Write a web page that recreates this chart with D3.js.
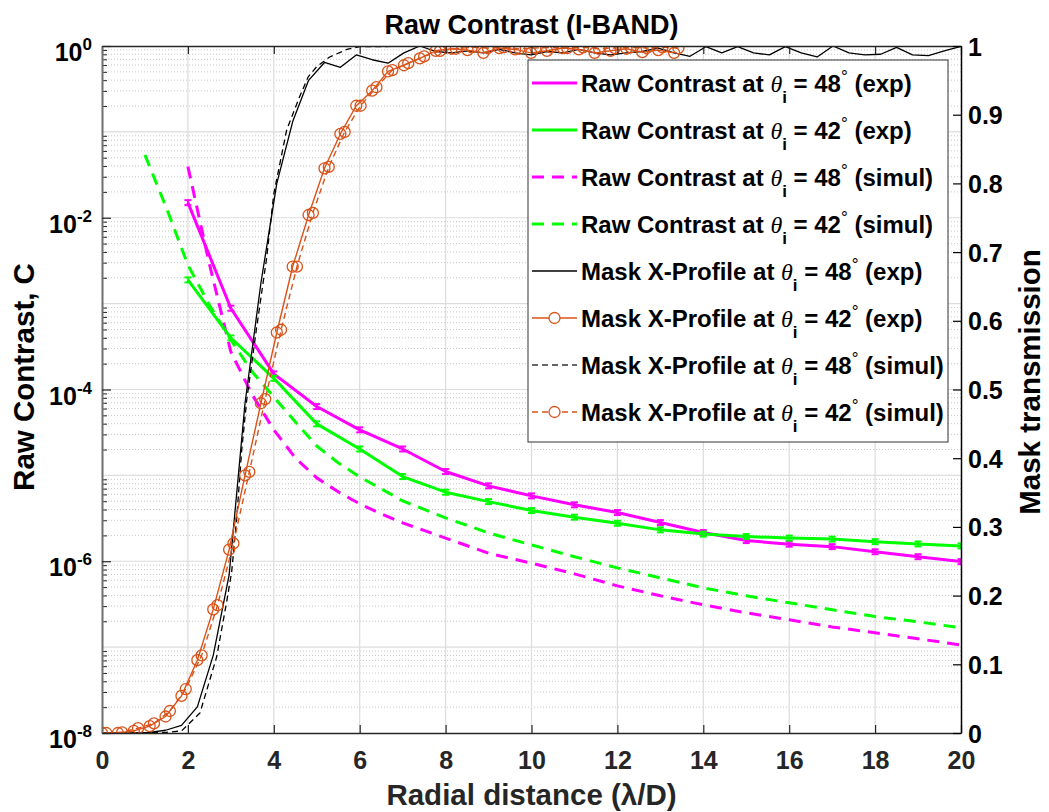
<!DOCTYPE html>
<html><head><meta charset="utf-8">
<script src="https://cdn.jsdelivr.net/npm/d3@7"></script>
<style>
body{margin:0;background:#fff;}
svg{display:block;}
text{font-family:"Liberation Sans",Arial,Helvetica,sans-serif;font-weight:bold;}
</style>
</head><body>
<svg id="chart" width="1049" height="812"></svg>
<script>
// ---------------- DATA ----------------
const xTickValues = [0,2,4,6,8,10,12,14,16,18,20];
const leftTickExponents = [0,-2,-4,-6,-8];
const rightTickValues = [0,0.1,0.2,0.3,0.4,0.5,0.6,0.7,0.8,0.9,1];

// Raw contrast, experimental (errorbar points at integer lambda/D)
const rcExpX = [2,3,4,5,6,7,8,9,10,11,12,13,14,15,16,17,18,19,20];
const rc48exp = [1.50e-2,8.84e-4,1.52e-4,6.33e-5,3.39e-5,2.03e-5,1.11e-5,7.55e-6,5.77e-6,4.54e-6,3.69e-6,2.82e-6,2.16e-6,1.74e-6,1.58e-6,1.48e-6,1.29e-6,1.13e-6,9.9e-7];
const rc42exp = [1.89e-3,3.99e-4,1.35e-4,3.98e-5,2.03e-5,9.68e-6,6.37e-6,4.95e-6,3.89e-6,3.26e-6,2.77e-6,2.32e-6,2.07e-6,1.94e-6,1.86e-6,1.81e-6,1.69e-6,1.59e-6,1.51e-6];

// Raw contrast, simulation
const rc48simX = [2,2.5,3,3.5,4,4.5,5,5.5,6,6.5,7,8,9,10,11,12,13,14,15,16,17,18,19,20];
const rc48sim = [3.94e-2,2.90e-3,2.74e-4,8.65e-5,3.39e-5,1.60e-5,9.35e-6,6.43e-6,4.66e-6,3.56e-6,2.80e-6,1.86e-6,1.24e-6,9.5e-7,7.13e-7,5.17e-7,3.96e-7,3.11e-7,2.51e-7,2.08e-7,1.72e-7,1.47e-7,1.25e-7,1.06e-7];
const rc42simX = [1,1.5,2,2.5,3,3.5,4,4.5,5,5.5,6,6.5,7,8,9,10,11,12,13,14,15,16,17,18,19,20];
const rc42sim = [5.39e-2,1.30e-2,2.82e-3,9.66e-4,3.78e-4,1.60e-4,8.20e-5,4.20e-5,2.20e-5,1.40e-5,9.6e-6,6.97e-6,5.05e-6,3.20e-6,2.14e-6,1.55e-6,1.13e-6,8.38e-7,6.41e-7,4.90e-7,3.96e-7,3.28e-7,2.72e-7,2.27e-7,1.97e-7,1.68e-7];

// Mask X-profile (transmission), 48 deg experimental
const mask48expX = [0,0.37,0.74,1.11,1.48,1.85,2.22,2.59,2.96,3.33,3.70,4.07,4.44,4.81,5.18,5.55,5.92,6.29,6.66,7.03,7.40,7.77,8.14,8.51,8.88,9.25,9.62,9.99,10.36,10.73,11.10,11.47,11.84,12.21,12.58,12.95,13.32,13.69,14.06,14.43,14.80,15.17,15.54,15.91,16.28,16.65,17.02,17.39,17.76,18.13,18.50,18.87,19.24,19.61,19.98];
const mask48exp = [0,0,0,0.001,0.004,0.011,0.038,0.113,0.23,0.48,0.655,0.80,0.89,0.95,0.976,0.969,0.987,0.98,0.975,0.99,1.0,0.992,0.99,0.993,0.99,0.995,0.99,0.987,0.992,0.99,0.995,0.99,0.987,0.99,0.992,0.997,0.99,0.985,0.999,0.99,0.999,0.99,0.987,0.999,0.99,0.984,1.0,0.99,0.987,0.988,0.998,0.987,0.986,0.993,0.999];

// Mask X-profile, 42 deg experimental
const mask42expX = [0,0.37,0.74,1.11,1.48,1.85,2.22,2.59,2.96,3.33,3.70,4.07,4.44,4.81,5.18,5.55,5.92,6.29,6.66,7.03,7.40,7.77,8.14,8.51,8.88,9.25,9.62,9.99,10.36,10.73,11.10,11.47,11.84,12.21,12.58,12.95,13.32];
const mask42exp = [0,0,0.003,0.010,0.024,0.054,0.106,0.180,0.267,0.375,0.480,0.583,0.679,0.754,0.822,0.872,0.913,0.935,0.963,0.972,0.982,0.993,0.996,0.994,0.990,0.997,0.995,0.990,0.993,0.997,0.995,0.990,0.993,0.996,0.991,0.994,0.990];

// Mask X-profile, 48 deg simulation
const mask48simX = [0,0.5,1.0,1.5,1.85,2.28,2.67,2.9,3.02,3.14,3.25,3.37,3.6,3.83,4.0,4.3,4.6,4.8,5.0,5.3,5.7,6.0,8,12,16,20];
const mask48sim = [0,0,0,0.001,0.003,0.029,0.111,0.19,0.235,0.315,0.41,0.485,0.59,0.69,0.785,0.878,0.926,0.955,0.97,0.984,0.995,0.999,1,1,1,1];

// Mask X-profile, 42 deg simulation
const mask42simX = [0.10,0.47,0.84,1.21,1.58,1.95,2.32,2.69,3.06,3.43,3.80,4.17,4.54,4.91,5.28,5.65,6.02,6.39,6.76,7.13,7.50,7.87,8.24,8.61,8.98,9.35,9.72,10.09,10.46,10.83,11.20,11.57,11.94,12.31,12.68,13.05,13.42];
const mask42sim = [0,0.001,0.007,0.014,0.032,0.064,0.113,0.186,0.276,0.38,0.486,0.587,0.679,0.757,0.824,0.875,0.913,0.94,0.965,0.975,0.985,0.993,0.996,0.998,0.997,0.998,0.996,0.997,0.998,0.997,0.998,0.996,0.997,0.998,0.997,0.998,0.997];

// ---------------- LAYOUT ----------------
const M = {l:102, r:961, t:46, b:733};
const svg = d3.select("#chart");
const x = d3.scaleLinear().domain([0,20]).range([M.l, M.r]);
const yL = d3.scaleLog().domain([1e-8,1]).range([M.b, M.t]);
const yR = d3.scaleLinear().domain([0,1]).range([M.b, M.t]);

const MAG = "#ff00ff", GRN = "#00ff00", ORG = "#d95319", BLK = "#000000";
const TICKFONT = 25;

svg.append("rect").attr("width",1049).attr("height",812).attr("fill","#fff");
svg.append("defs").append("clipPath").attr("id","clip")
  .append("rect").attr("x",M.l).attr("y",M.t).attr("width",M.r-M.l).attr("height",M.b-M.t);

// ---------- grid ----------
const grid = svg.append("g");
const minorVals = [];
for (let e=-8; e<0; e++) for (let m=2; m<=9; m++) minorVals.push(m*Math.pow(10,e));
grid.selectAll("line.minor").data(minorVals).join("line")
  .attr("x1",M.l).attr("x2",M.r).attr("y1",d=>yL(d)).attr("y2",d=>yL(d))
  .attr("stroke","#c8c8c8").attr("stroke-width",1).attr("stroke-dasharray","1,2");
grid.selectAll("line.majorY").data([1e-7,1e-6,1e-5,1e-4,1e-3,1e-2,1e-1]).join("line")
  .attr("x1",M.l).attr("x2",M.r).attr("y1",d=>yL(d)).attr("y2",d=>yL(d))
  .attr("stroke","#dcdcdc").attr("stroke-width",1.2);
grid.selectAll("line.majorX").data(xTickValues.slice(1,-1)).join("line")
  .attr("x1",d=>x(d)).attr("x2",d=>x(d)).attr("y1",M.t).attr("y2",M.b)
  .attr("stroke","#dcdcdc").attr("stroke-width",1.2);

// ---------- data ----------
const plot = svg.append("g").attr("clip-path","url(#clip)");
function drawLine(xs, ys, yScale, color, width, dash){
  const pts = xs.map((d,i)=>[d, ys[i]]);
  plot.append("path").datum(pts)
    .attr("d", d3.line().x(d=>x(d[0])).y(d=>yScale(d[1])))
    .attr("fill","none").attr("stroke",color).attr("stroke-width",width)
    .attr("stroke-dasharray", dash||null).attr("stroke-linejoin","round");
  return pts;
}
function drawErr(pts, color){
  const g = plot.append("g").attr("stroke",color).attr("stroke-width",2);
  pts.forEach(p=>{
    const cx = x(p[0]), cy = yL(p[1]);
    g.append("line").attr("x1",cx).attr("x2",cx).attr("y1",cy-2.5).attr("y2",cy+2.5);
    g.append("line").attr("x1",cx-3.5).attr("x2",cx+3.5).attr("y1",cy-2.5).attr("y2",cy-2.5);
    g.append("line").attr("x1",cx-3.5).attr("x2",cx+3.5).attr("y1",cy+2.5).attr("y2",cy+2.5);
  });
}
function drawCircles(pts, color){
  plot.append("g").selectAll("circle").data(pts).join("circle")
    .attr("cx",d=>x(d[0])).attr("cy",d=>yR(d[1])).attr("r",5.5)
    .attr("fill","none").attr("stroke",color).attr("stroke-width",1.3);
}

drawLine(rc48simX, rc48sim, yL, MAG, 3, "12,8");
drawLine(rc42simX, rc42sim, yL, GRN, 3, "12,8");
const p48 = drawLine(rcExpX, rc48exp, yL, MAG, 3);
drawErr(p48, MAG);
const p42 = drawLine(rcExpX, rc42exp, yL, GRN, 3);
drawErr(p42, GRN);

drawLine(mask48simX, mask48sim, yR, BLK, 1.3, "6,4");
drawLine(mask48expX, mask48exp, yR, BLK, 1.3);
const m42s = drawLine(mask42simX, mask42sim, yR, ORG, 1.4, "6,4");
drawCircles(m42s, ORG);
const m42e = drawLine(mask42expX, mask42exp, yR, ORG, 1.4);
drawCircles(m42e, ORG);

// ---------- axes ----------
const AX = "#262626";
// bottom
const gB = svg.append("g").attr("transform",`translate(0,${M.b})`)
  .call(d3.axisBottom(x).tickValues(xTickValues).tickSize(-8).tickSizeOuter(0).tickPadding(0).tickFormat(d3.format("d")));
gB.select(".domain").attr("stroke",AX).attr("stroke-width",1.5);
gB.selectAll(".tick line").attr("stroke",AX).attr("stroke-width",1.2);
gB.selectAll(".tick text").attr("y",36).attr("dy",0).attr("fill",AX)
  .style("font-size",TICKFONT+"px");
// top
const gT = svg.append("g").attr("transform",`translate(0,${M.t})`)
  .call(d3.axisTop(x).tickValues(xTickValues).tickSize(-8).tickSizeOuter(0).tickFormat(""));
gT.select(".domain").attr("stroke",AX).attr("stroke-width",1.5);
gT.selectAll(".tick line").attr("stroke",AX).attr("stroke-width",1.2);

// left
const gLmin = svg.append("g").attr("transform",`translate(${M.l},0)`)
  .call(d3.axisLeft(yL).tickValues(minorVals).tickSize(-5).tickSizeOuter(0).tickFormat(""));
gLmin.select(".domain").remove();
gLmin.selectAll(".tick line").attr("stroke",AX).attr("stroke-width",1);
const gL = svg.append("g").attr("transform",`translate(${M.l},0)`)
  .call(d3.axisLeft(yL).tickValues(leftTickExponents.map(e=>Math.pow(10,e))).tickSize(-9).tickSizeOuter(0).tickFormat(""));
gL.select(".domain").attr("stroke","#6e6e6e").attr("stroke-width",2);
gL.selectAll(".tick line").attr("stroke",AX).attr("stroke-width",1.2);
gL.selectAll(".tick").each(function(d){
  const e = Math.round(Math.log10(d));
  const t = d3.select(this).append("text").attr("x",-10).attr("y",14.5)
    .attr("text-anchor","end").attr("fill","#000").style("font-size",TICKFONT+"px");
  t.append("tspan").text("10");
  t.append("tspan").attr("dy",-11).style("font-size","17px").text(String(e));
});

// right
const gR = svg.append("g").attr("transform",`translate(${M.r},0)`)
  .call(d3.axisRight(yR).tickValues(rightTickValues).tickSize(-8).tickSizeOuter(0).tickPadding(7)
    .tickFormat(d=> d===0?"0":(d===1?"1":d3.format(".1f")(d))));
gR.select(".domain").attr("stroke","#000").attr("stroke-width",1.5);
gR.selectAll(".tick line").attr("stroke","#000").attr("stroke-width",1.2);
gR.selectAll(".tick text").attr("dy",0).attr("y",9).attr("fill","#000").style("font-size",TICKFONT+"px");

// ---------- labels ----------
svg.append("text").attr("x",(M.l+M.r)/2).attr("y",34).attr("text-anchor","middle")
  .style("font-size","27px").attr("fill","#000").text("Raw Contrast (I-BAND)");
svg.append("text").attr("x",(M.l+M.r)/2).attr("y",805).attr("text-anchor","middle")
  .style("font-size","29.5px").attr("fill",AX).text("Radial distance (λ/D)");
svg.append("text").attr("transform",`translate(34,377) rotate(-90)`).attr("text-anchor","middle")
  .style("font-size","29.5px").attr("fill","#000").text("Raw Contrast, C");
svg.append("text").attr("transform",`translate(1040,382) rotate(-90)`).attr("text-anchor","middle")
  .style("font-size","29.5px").attr("fill","#000").text("Mask transmission");

// ---------- legend ----------
const legendItems = [
  {pre:"Raw Contrast at ", ang:"48", tag:"(exp)",   color:MAG, w:3,   dash:null,  circ:false},
  {pre:"Raw Contrast at ", ang:"42", tag:"(exp)",   color:GRN, w:3,   dash:null,  circ:false},
  {pre:"Raw Contrast at ", ang:"48", tag:"(simul)", color:MAG, w:3,   dash:"12,8",circ:false},
  {pre:"Raw Contrast at ", ang:"42", tag:"(simul)", color:GRN, w:3,   dash:"12,8",circ:false},
  {pre:"Mask X-Profile at ", ang:"48", tag:"(exp)",   color:BLK, w:1.3, dash:null, circ:false},
  {pre:"Mask X-Profile at ", ang:"42", tag:"(exp)",   color:ORG, w:1.4, dash:null, circ:true},
  {pre:"Mask X-Profile at ", ang:"48", tag:"(simul)", color:"#333", w:1.3, dash:"6,4", circ:false},
  {pre:"Mask X-Profile at ", ang:"42", tag:"(simul)", color:ORG, w:1.4, dash:"6,4", circ:true}
];
const lg = svg.append("g");
lg.append("rect").attr("x",528).attr("y",60).attr("width",420).attr("height",382)
  .attr("fill","#fff").attr("stroke","#333").attr("stroke-width",1);
legendItems.forEach((it,i)=>{
  const cy = 83 + 47*i;
  lg.append("line").attr("x1",532).attr("x2",577).attr("y1",cy).attr("y2",cy)
    .attr("stroke",it.color).attr("stroke-width",it.w).attr("stroke-dasharray",it.dash);
  if (it.circ) lg.append("circle").attr("cx",554.5).attr("cy",cy).attr("r",5.5)
    .attr("fill","#fff").attr("stroke",it.color).attr("stroke-width",1.3);
  const t = lg.append("text").attr("x",581).attr("y",cy+8.5).style("font-size","24px").attr("fill","#000");
  t.append("tspan").text(it.pre);
  t.append("tspan").style("font-family","'Liberation Serif','Times New Roman',serif")
    .style("font-style","italic").style("font-weight","normal").text("θ");
  t.append("tspan").attr("dy",11).style("font-size","17px").text("i");
  t.append("tspan").attr("dy",-11).text(" = " + it.ang);
  t.append("tspan").attr("dy",-10).style("font-size","17px").style("font-weight","normal").text("°");
  t.append("tspan").attr("dy",10).text(" " + it.tag);
});
</script>
</body></html>
